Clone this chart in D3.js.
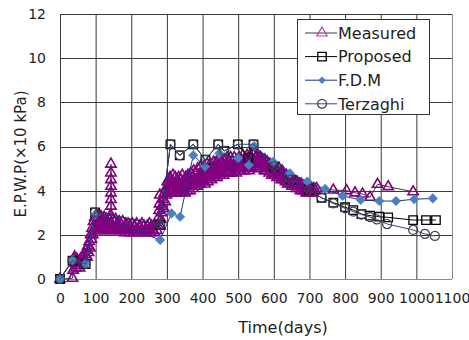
<!DOCTYPE html>
<html>
<head>
<meta charset="utf-8">
<script src="https://cdn.jsdelivr.net/npm/d3@7"></script>
<style>
  html, body { margin: 0; padding: 0; background: #fff; }
  svg { display: block; }
  text { font-family: "DejaVu Sans", sans-serif; fill: #222; }
</style>
</head>
<body>
<svg id="chart" width="469" height="340"></svg>
<script>
// Excess pore water pressure (x10 kPa) against time (days)
const xTicks = [0, 100, 200, 300, 400, 500, 600, 700, 800, 900, 1000, 1100];
const yTicks = [0, 2, 4, 6, 8, 10, 12];
const seriesNames = ["Measured", "Proposed", "F.D.M", "Terzaghi"];

// Field readings [day, pressure]
const measured = [
  [0,0],[35,0.03],[37,0.4],[39,0.9],[41,1.0],[43,0.7],[45,0.5],[47,0.9],[49,0.6],[52,0.8],
  [55,0.5],[58,0.9],[61,0.7],[64,1.0],[67,0.8],[70,1.1],[73,1.3],[76,1.0],[78,1.5],[80,1.2],
  [82,1.7],[84,1.4],[86,2.0],[88,1.8],[90,2.3],[92,2.0],[94,2.6],[96,2.2],[98,2.8],[100,2.4],
  [102,2.9],[104,2.2],[106,2.7],[108,2.4],[110,2.9],[112,2.2],[114,2.6],[116,2.8],[118,2.3],[120,2.6],
  [122,2.2],[124,2.8],[126,2.4],[128,2.2],[130,2.7],[132,2.3],[134,2.5],[136,2.2],[138,2.7],[140,2.4],
  [142,2.9],[143,3.3],[143,3.6],[143,3.9],[143,4.2],[143,4.5],[143,4.8],[143,5.2],[144,2.5],[146,2.2],
  [148,2.7],[150,2.3],[152,2.6],[154,2.2],[156,2.7],[158,2.3],[160,2.5],[162,2.2],[164,2.4],[166,2.6],
  [168,2.2],[170,2.5],[173,2.2],[176,2.6],[179,2.3],[182,2.1],[185,2.5],[188,2.2],[191,2.5],[194,2.1],
  [197,2.4],[200,2.2],[203,2.5],[206,2.1],[209,2.4],[212,2.2],[215,2.5],[218,2.2],[221,2.1],[224,2.4],
  [227,2.2],[230,2.5],[233,2.1],[236,2.4],[239,2.2],[242,2.1],[245,2.4],[248,2.2],[251,2.5],[254,2.1],
  [257,2.4],[260,2.2],[263,2.4],[266,2.1],[269,2.4],[272,2.2],[275,2.4],[277,2.8],[278,3.1],[279,3.4],
  [280,3.8],[281,2.4],[283,2.7],[285,3.0],[287,3.3],[289,3.6],[291,3.2],[293,3.9],[295,3.5],[297,4.1],
  [299,3.8],[301,4.4],[303,4.0],[305,4.5],[307,4.2],[309,4.6],[311,3.9],[313,4.4],[315,4.1],[317,4.7],
  [319,4.0],[321,4.3],[323,4.6],[325,3.9],[327,4.2],[329,4.5],[331,4.0],[333,4.6],[335,4.3],[337,3.9],
  [339,4.5],[341,4.1],[343,4.7],[345,4.0],[347,4.4],[349,4.2],[351,3.9],[353,4.6],[355,4.3],[357,4.0],
  [359,4.7],[361,4.2],[363,4.5],[365,4.0],[367,4.8],[369,4.3],[371,4.6],[373,4.1],[375,4.9],[377,4.4],
  [379,4.2],[381,4.8],[383,4.5],[385,4.2],[387,5.0],[389,4.4],[391,4.7],[393,4.3],[395,5.1],[397,4.6],
  [399,4.4],[401,4.9],[403,4.5],[405,5.1],[407,4.3],[409,4.8],[411,4.6],[413,5.2],[415,4.4],[417,4.9],
  [419,4.6],[421,5.2],[423,4.7],[425,4.5],[427,5.0],[429,4.7],[431,5.3],[433,4.6],[435,5.0],[437,4.8],
  [439,5.3],[441,4.6],[443,5.1],[445,4.8],[447,5.4],[449,4.7],[451,5.0],[453,5.3],[455,4.8],[457,5.1],
  [459,4.7],[461,5.4],[463,4.9],[465,5.2],[467,4.8],[469,5.5],[471,5.0],[473,4.8],[475,5.3],[477,4.9],
  [479,5.5],[481,5.0],[483,4.8],[485,5.3],[487,5.0],[489,5.5],[491,4.9],[493,5.2],[495,4.8],[497,5.4],
  [499,5.1],[501,4.9],[503,5.5],[505,5.1],[507,4.9],[509,5.4],[511,5.0],[513,5.6],[515,5.1],[517,4.9],
  [519,5.4],[521,5.2],[523,5.0],[525,5.6],[527,5.1],[529,5.3],[531,4.9],[533,5.6],[535,5.2],[537,5.0],
  [539,5.7],[541,5.3],[543,5.1],[545,5.7],[547,5.3],[549,5.5],[551,5.1],[553,5.6],[555,5.3],[557,5.0],
  [559,5.5],[561,5.2],[563,5.5],[565,5.0],[567,5.4],[569,5.1],[571,5.3],[573,4.9],[575,5.4],[577,5.1],
  [579,4.9],[581,5.3],[583,5.0],[585,5.2],[587,4.8],[589,5.2],[591,4.9],[593,5.1],[595,4.7],[597,5.1],
  [599,4.8],[601,5.0],[603,4.7],[605,5.0],[607,4.8],[609,4.6],[611,4.9],[613,4.7],[615,5.0],[617,4.6],
  [619,4.8],[621,4.5],[623,4.9],[625,4.6],[627,4.8],[629,4.5],[631,4.7],[633,4.4],[635,4.7],[637,4.5],
  [639,4.3],[641,4.6],[643,4.4],[645,4.6],[647,4.3],[649,4.5],[651,4.2],[653,4.5],[655,4.3],[657,4.4],
  [659,4.2],[661,4.4],[663,4.1],[665,4.4],[667,4.2],[669,4.3],[671,4.1],[673,4.3],[675,4.0],[677,4.3],
  [679,4.1],[681,4.2],[683,4.0],[685,4.2],[687,4.0],[689,4.2],[691,3.9],[693,4.1],[695,4.0],[697,4.2],
  [699,3.9],[701,4.1],[703,4.0],[706,4.1],[709,3.9],[712,4.1],[716,4.0],[720,4.1],
  [767,4.03],[804,4.0],[828,3.9],[849,3.85],[870,3.7],[891,4.29],[921,4.18],[991,3.95]
];

// Proposed solution [day, pressure]
const proposed = [
  [0,0],[35,0.83],[72,0.68],[98,3.02],[281,2.45],[310,6.1],[336,5.6],[374,6.1],[408,5.4],
  [444,6.1],[461,5.8],[499,6.1],[528,5.5],[543,6.1],[601,5.1],[648,4.5],[698,4.05],[734,3.68],
  [767,3.46],[800,3.25],[823,3.12],[846,2.94],[870,2.87],[896,2.82],[921,2.79],[991,2.67],
  [1027,2.67],[1055,2.67]
];

// Finite difference solution [day, pressure]
const fdm = [
  [0,0],[35,0.85],[72,0.7],[98,2.9],[281,1.77],[313,2.97],[337,2.82],[374,5.6],[407,5.09],
  [447,5.69],[500,5.47],[530,5.16],[545,6.02],[598,5.31],[645,4.79],[694,4.41],[744,4.08],
  [793,3.76],[844,3.58],[896,3.53],[943,3.53],[994,3.61],[1046,3.65]
];

// Terzaghi consolidation [day, pressure]
const terzaghi = [
  [0,0],[35,0.83],[72,0.68],[98,3.02],[281,2.45],[310,6.1],[336,5.6],[374,6.1],[408,5.4],
  [444,6.1],[461,5.8],[499,6.1],[543,6.1],[601,5.1],[648,4.5],[698,4.05],[734,3.68],
  [767,3.42],[800,3.2],[823,3.05],[846,2.92],[870,2.8],[889,2.7],[918,2.49],[991,2.22],
  [1024,2.04],[1052,1.95]
];

const svg = d3.select("#chart");
const margin = { left: 60, right: 17, top: 14, bottom: 61 };
const W = 469, H = 340;

const x = d3.scaleLinear().domain([0, 1100]).range([margin.left, W - margin.right]);
const y = d3.scaleLinear().domain([0, 12]).range([H - margin.bottom, margin.top]);

// grid
const grid = svg.append("g");
grid.selectAll("line.v").data(xTicks).join("line")
  .attr("x1", d => x(d) + 0.5).attr("x2", d => x(d) + 0.5)
  .attr("y1", y(12)).attr("y2", y(0))
  .attr("stroke", d => (d === 1100 ? "#8a8a8a" : "#3a3a3a")).attr("stroke-width", 1);
grid.selectAll("line.h").data(yTicks).join("line")
  .attr("x1", x(0)).attr("x2", x(1100))
  .attr("y1", d => Math.round(y(d)) + 0.5).attr("y2", d => Math.round(y(d)) + 0.5)
  .attr("stroke", d => (d === 0 ? "#8a8a8a" : "#3a3a3a")).attr("stroke-width", 1);

// axis labels via d3 axes (tick lines hidden, the grid carries them)
const xAxis = svg.append("g")
  .attr("transform", `translate(0,${y(0)})`)
  .call(d3.axisBottom(x).tickValues(xTicks).tickSize(0).tickPadding(14).tickFormat(d3.format("d")));
xAxis.select(".domain").remove();
xAxis.selectAll("text").style("font-size", "14px").style("font-family", "DejaVu Sans").attr("fill", "#222");

const yAxis = svg.append("g")
  .attr("transform", `translate(${x(0)},0)`)
  .call(d3.axisLeft(y).tickValues(yTicks).tickSize(0).tickPadding(14).tickFormat(d3.format("d")));
yAxis.select(".domain").remove();
yAxis.selectAll("text").style("font-size", "14px").style("font-family", "DejaVu Sans").attr("fill", "#222");

svg.append("text")
  .attr("x", 283).attr("y", 333)
  .attr("text-anchor", "middle")
  .style("font-size", "16px")
  .text("Time(days)");

svg.append("text")
  .attr("transform", "translate(26,154) rotate(-90)")
  .attr("text-anchor", "middle")
  .style("font-size", "15px")
  .text("E.P.W.P(×10 kPa)");

const line = d3.line().x(d => x(d[0])).y(d => y(d[1]));
const plot = svg.append("g");

// marker shapes
const diamondPath = "M0,-4.8L4.8,0L0,4.8L-4.8,0Z";
const sym = {
  tri: d3.symbol().type(d3.symbolTriangle).size(46),
  sq: d3.symbol().type(d3.symbolSquare).size(72),
  dia: () => diamondPath,
  cir: d3.symbol().type(d3.symbolCircle).size(64)
};

const styles = {
  "Measured": { data: measured, line: "#3a3a3a", lw: 1, marker: sym.tri, stroke: "#800080", fill: "none", sw: 1.6 },
  "Proposed": { data: proposed, line: "#000000", lw: 1, marker: sym.sq, stroke: "#000000", fill: "none", sw: 1.3 },
  "F.D.M": { data: fdm, line: "#23318a", lw: 1, marker: sym.dia, stroke: "#4a7fc0", fill: "#4a7fc0", sw: 0.5 },
  "Terzaghi": { data: terzaghi, line: "#2f4a8c", lw: 1, marker: sym.cir, stroke: "#444444", fill: "none", sw: 1.2 }
};

seriesNames.forEach(name => {
  const s = styles[name];
  const g = plot.append("g");
  g.append("path").datum(s.data)
    .attr("d", line).attr("fill", "none")
    .attr("stroke", s.line).attr("stroke-width", s.lw);
  g.selectAll("path.m").data(s.data).join("path")
    .attr("class", "m")
    .attr("transform", d => `translate(${x(d[0])},${y(d[1])})`)
    .attr("d", s.marker)
    .attr("fill", s.fill).attr("stroke", s.stroke).attr("stroke-width", s.sw);
});

// legend
const lg = svg.append("g");
lg.append("rect")
  .attr("x", 297.5).attr("y", 19.5).attr("width", 132).attr("height", 95)
  .attr("fill", "#fff").attr("stroke", "#333").attr("stroke-width", 1);
seriesNames.forEach((name, i) => {
  const s = styles[name];
  const cy = 33 + i * 23.6;
  lg.append("line")
    .attr("x1", 305).attr("x2", 337).attr("y1", cy).attr("y2", cy)
    .attr("stroke", s.line).attr("stroke-width", 1);
  lg.append("path")
    .attr("transform", `translate(322,${cy})`)
    .attr("d", name === "F.D.M" ? "M0,-3.5L3.5,0L0,3.5L-3.5,0Z" : s.marker)
    .attr("fill", s.fill)
    .attr("stroke", name === "Measured" ? "#b040b0" : s.stroke)
    .attr("stroke-width", name === "Measured" ? 1.2 : s.sw);
  lg.append("text")
    .attr("x", 338).attr("y", cy)
    .attr("dy", "0.36em")
    .style("font-size", "16px")
    .text(name);
});
</script>
</body>
</html>
